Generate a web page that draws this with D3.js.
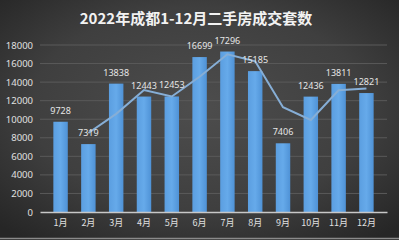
<!DOCTYPE html>
<html>
<head>
<meta charset="utf-8">
<script src="https://cdn.jsdelivr.net/npm/d3@7"></script>
<style>
  html, body { margin: 0; padding: 0; background: #333; }
  #chart { width: 399px; height: 240px; }
</style>
</head>
<body>
<div id="chart"></div>
<script>
const months = ["1月","2月","3月","4月","5月","6月","7月","8月","9月","10月","11月","12月"];
const sales = [9728, 7319, 13838, 12443, 12453, 16699, 17296, 15185, 7406, 12436, 13811, 12821];
// trend line (2-month moving average), starts at Feb
const trendMonths = months.slice(1);
const trend = [8520, 10580, 13140, 12450, 14580, 17000, 16240, 11300, 9920, 13120, 13320];
const yTicks = [0, 2000, 4000, 6000, 8000, 10000, 12000, 14000, 16000, 18000];

const W = 399, H = 240;
const margin = { top: 45, right: 12, bottom: 28, left: 40 };

const svg = d3.select("#chart").append("svg")
  .attr("width", W)
  .attr("height", H);

const defs = svg.append("defs");
const bg = defs.append("radialGradient").attr("id", "bg")
  .attr("cx", "50%").attr("cy", "45%").attr("r", "70%");
bg.append("stop").attr("offset", "0%").attr("stop-color", "#4d4d4d");
bg.append("stop").attr("offset", "60%").attr("stop-color", "#3f3f3f");
bg.append("stop").attr("offset", "100%").attr("stop-color", "#262626");

const barGrad = defs.append("linearGradient").attr("id", "bar")
  .attr("x1", 0).attr("x2", 1).attr("y1", 0).attr("y2", 0);
barGrad.append("stop").attr("offset", "0%").attr("stop-color", "#5b9ee0");
barGrad.append("stop").attr("offset", "50%").attr("stop-color", "#66aaea");
barGrad.append("stop").attr("offset", "100%").attr("stop-color", "#4f92d6");

svg.append("rect").attr("width", W).attr("height", H).attr("fill", "url(#bg)");

const x = d3.scaleBand()
  .domain(months)
  .range([margin.left, W - margin.right])
  .padding(0.48);

const y = d3.scaleLinear()
  .domain([0, 18000])
  .range([H - margin.bottom, margin.top]);

// title
svg.append("text")
  .attr("x", 196)
  .attr("y", 24)
  .attr("text-anchor", "middle")
  .attr("fill", "#f2f2f2")
  .attr("font-family", "'Noto Sans CJK SC', sans-serif")
  .attr("font-weight", "bold")
  .attr("font-size", "15px")
  .text("2022年成都1-12月二手房成交套数");

// gridlines
svg.append("g")
  .selectAll("line")
  .data(yTicks.slice(1))
  .enter()
  .append("line")
  .attr("x1", margin.left)
  .attr("x2", W - margin.right)
  .attr("y1", d => y(d))
  .attr("y2", d => y(d))
  .attr("stroke", "#5a5a5a")
  .attr("stroke-width", 1);

// y axis
const yAxis = svg.append("g")
  .attr("transform", `translate(${margin.left},0)`)
  .call(d3.axisLeft(y).tickValues(yTicks).tickFormat(d3.format("d")).tickSize(0).tickPadding(7));
yAxis.select(".domain").remove();
yAxis.selectAll("text")
  .attr("fill", "#e0e0e0")
  .attr("font-family", "'Noto Sans', sans-serif")
  .attr("font-size", "9.5px");

// bars
svg.append("g")
  .selectAll("rect")
  .data(sales)
  .enter()
  .append("rect")
  .attr("x", (d, i) => x(months[i]))
  .attr("y", d => y(d))
  .attr("width", x.bandwidth())
  .attr("height", d => y(0) - y(d))
  .attr("fill", "url(#bar)");

// x axis
const xAxis = svg.append("g")
  .attr("transform", `translate(0,${y(0)})`)
  .call(d3.axisBottom(x).tickSize(0).tickPadding(8));
xAxis.select(".domain")
  .attr("stroke", "#c8c8c8")
  .attr("stroke-width", 1.5);
xAxis.selectAll("text")
  .attr("fill", "#e0e0e0")
  .attr("font-family", "'Noto Sans CJK SC', sans-serif")
  .attr("font-size", "9px");

// trend line
const line = d3.line()
  .x((d, i) => x(trendMonths[i]) + x.bandwidth() / 2)
  .y(d => y(d));

svg.append("path")
  .datum(trend)
  .attr("d", line)
  .attr("fill", "none")
  .attr("stroke", "#86aed6")
  .attr("stroke-width", 2);

// data labels
svg.append("g")
  .selectAll("text")
  .data(sales)
  .enter()
  .append("text")
  .attr("x", (d, i) => x(months[i]) + x.bandwidth() / 2)
  .attr("y", d => y(d) - 8)
  .attr("text-anchor", "middle")
  .attr("fill", "#e6e6e6")
  .attr("font-family", "'Noto Sans', sans-serif")
  .attr("font-size", "9px")
  .text(d => d);

// bottom frame line
svg.append("line")
  .attr("x1", 0).attr("x2", W)
  .attr("y1", H - 1.5).attr("y2", H - 1.5)
  .attr("stroke", "#8a8a8a")
  .attr("stroke-width", 1.5);
</script>
</body>
</html>
